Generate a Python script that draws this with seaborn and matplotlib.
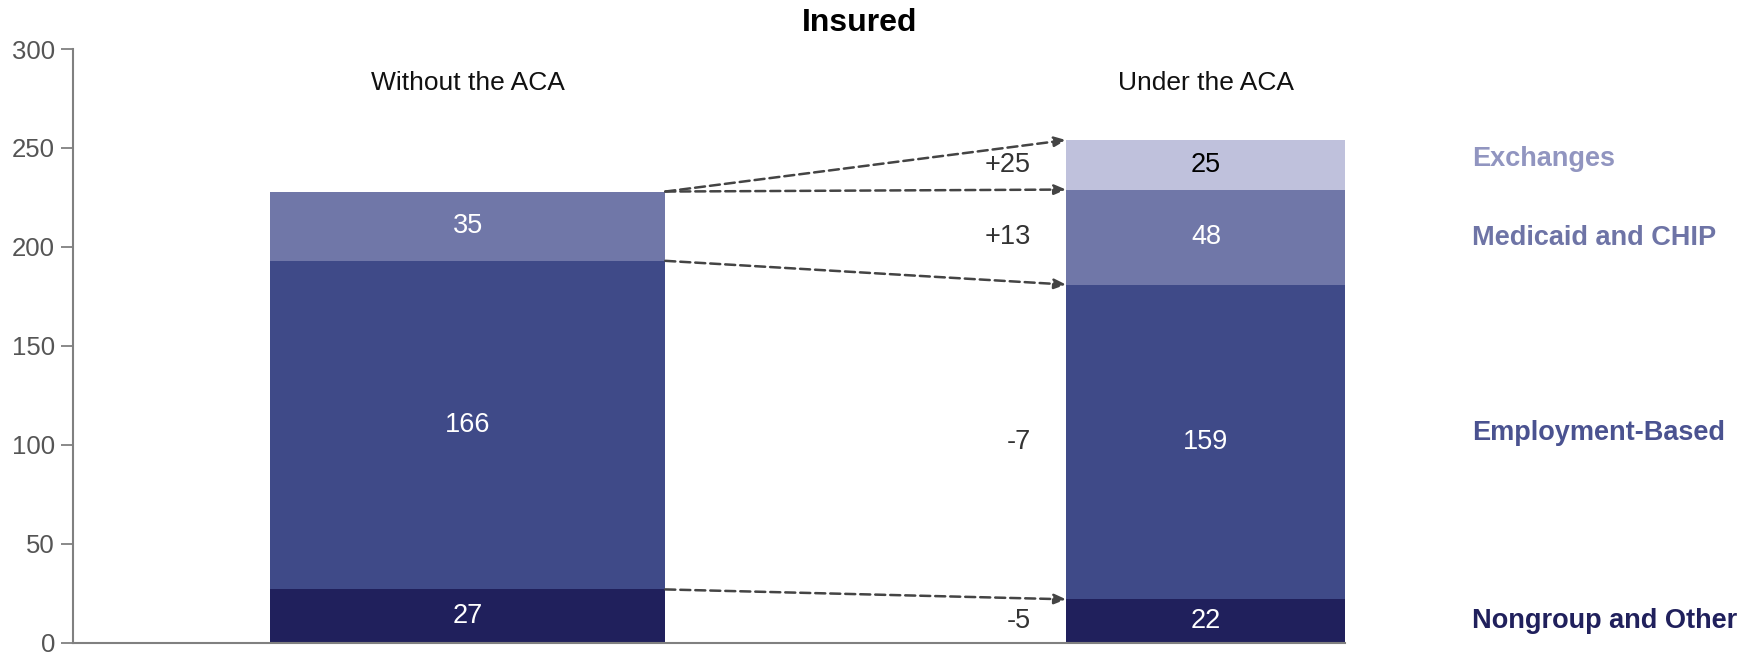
import numpy as np
import pandas as pd
import matplotlib
matplotlib.use("Agg")
import matplotlib.pyplot as plt
import seaborn as sns

# data (millions of people)
scenarios = ["Without the ACA", "Under the ACA"]
segments = ["Nongroup and Other", "Employment-Based", "Medicaid and CHIP", "Exchanges"]
without_aca = [27, 166, 35, 0]
under_aca = [22, 159, 48, 25]
changes = ["-5", "-7", "+13", "+25"]

seg_colors = ["#20205c", "#3f4a88", "#7077a8", "#bfc1dc"]
label_colors = ["#20205c", "#4a5290", "#6e74a6", "#9195c0"]
value_colors = ["white", "white", "white", "black"]

sns.set_style("white")
plt.rcParams["font.family"] = ["Liberation Sans", "DejaVu Sans"]

df = pd.DataFrame({
    "scenario": np.repeat(scenarios, len(segments)),
    "segment": segments * 2,
    "value": without_aca + under_aca,
})
df["top"] = df.groupby("scenario", sort=False)["value"].cumsum()
df["bottom"] = df["top"] - df["value"]

fig = plt.figure(figsize=(17.54, 6.58), dpi=100)
ax = fig.add_axes([0.0416, 0.023, 0.7255, 0.9025])

w1, w2 = 0.535, 0.379
# draw stacked layers from the top down so lower segments cover upper ones
for i in reversed(range(len(segments))):
    sub = df[df["segment"] == segments[i]]
    sns.barplot(data=sub, x="scenario", y="top", order=scenarios, color=seg_colors[i],
                width=w1, saturation=1, linewidth=0, ax=ax, errorbar=None)

# right bar is narrower than the left one
for p in ax.patches:
    if p.get_x() + p.get_width() / 2 > 0.5:
        p.set_width(w2)
        p.set_x(1 - w2 / 2)

ax.set_xlim(-0.535, 1.189)
ax.set_ylim(0, 300)
ax.set_yticks(range(0, 301, 50))
ax.set_xticks([])
ax.set_xlabel("")
ax.set_ylabel("")
for s in ["top", "right"]:
    ax.spines[s].set_visible(False)
ax.spines["left"].set_color("#808080")
ax.spines["bottom"].set_color("#808080")
ax.spines["left"].set_linewidth(1.5)
ax.spines["bottom"].set_linewidth(1.5)
ax.tick_params(axis="y", left=True, direction="out", length=9, width=1.3, color="#808080",
               labelsize=18.5, labelcolor="#555555", pad=4)

# value labels in the middle of each segment
for xi, sc in enumerate(scenarios):
    sub = df[df["scenario"] == sc]
    for i, row in enumerate(sub.itertuples()):
        if row.value == 0:
            continue
        ax.text(xi, (row.top + row.bottom) / 2, str(row.value), ha="center", va="center",
                fontsize=19.5, color=value_colors[i])
    ax.text(xi, 283, sc, ha="center", va="center", fontsize=19, color="#111111")

# change labels and arrows between the bars
sub_w = df[df["scenario"] == scenarios[0]].reset_index(drop=True)
sub_u = df[df["scenario"] == scenarios[1]].reset_index(drop=True)
for i in range(len(segments)):
    mid = (sub_u.loc[i, "top"] + sub_u.loc[i, "bottom"]) / 2
    ax.text(0.763, mid, changes[i], ha="right", va="center", fontsize=19.5, color="#333333")
arrow_pairs = [(0, 0), (1, 1), (2, 2), (2, 3)]
for a, b in arrow_pairs:
    ax.annotate("", xy=(1 - w2 / 2, sub_u.loc[b, "top"]), xytext=(w1 / 2, sub_w.loc[a, "top"]),
                arrowprops=dict(arrowstyle="-|>,head_length=0.7,head_width=0.3", color="#444444",
                                lw=1.8, linestyle=(0, (4, 2)), shrinkA=0, shrinkB=0))

# series labels at the right
label_y = [11, 106, 204.5, 244.6]
for i in range(len(segments)):
    ax.text(1.36, label_y[i], segments[i], ha="left", va="center", fontsize=19.5,
            fontweight="bold", color=label_colors[i], clip_on=False)

fig.text(0.49, 0.965, "Insured", ha="center", va="center", fontsize=23, fontweight="bold",
         color="black")

fig.savefig("out.png", dpi=100)
